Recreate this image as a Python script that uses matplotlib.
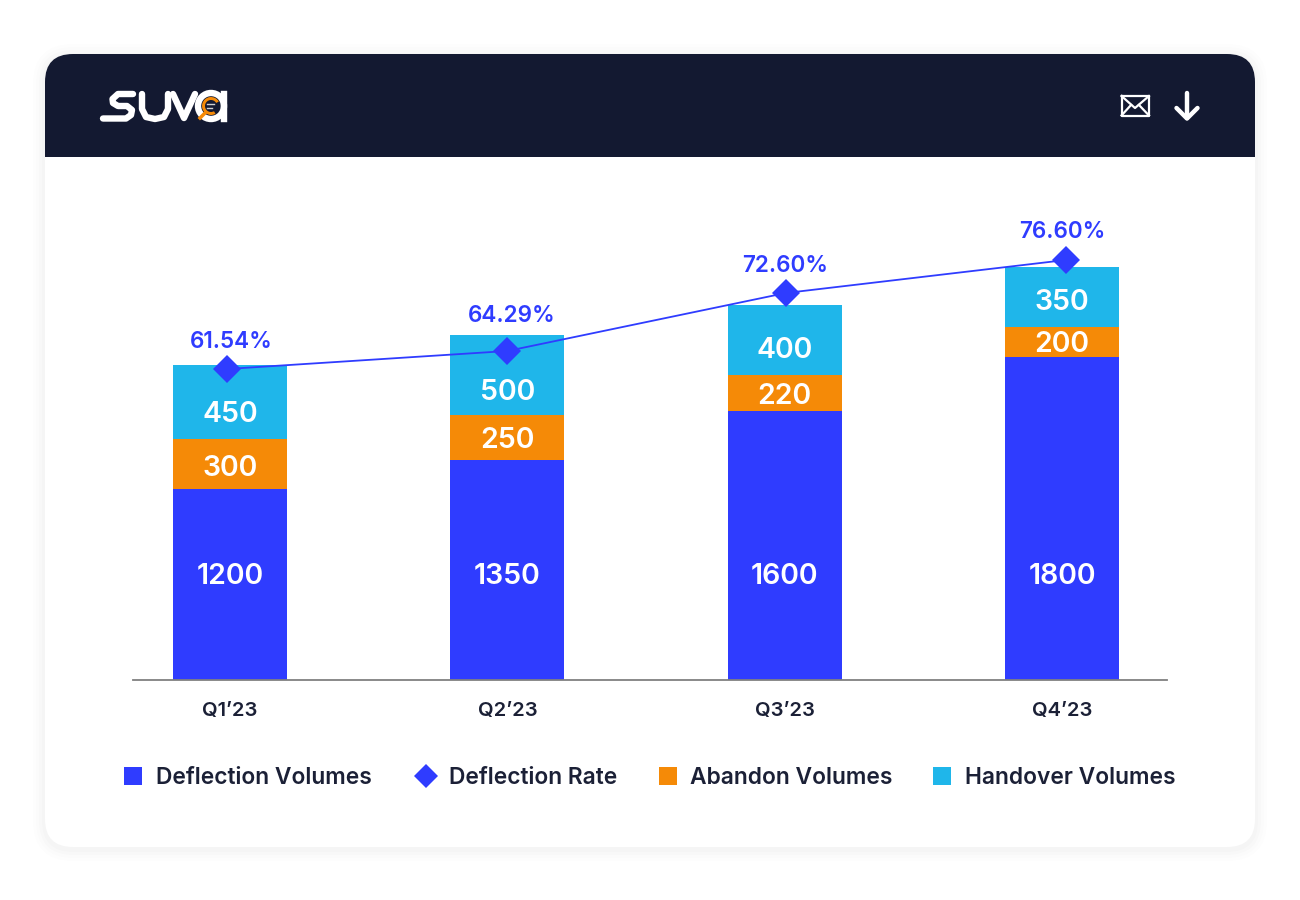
#! /usr/bin/env python3
"""
Stacked quarterly volumes with a deflection rate line, on a SUVA report card
"""

from matplotlib.patches import FancyBboxPatch, Rectangle, Circle, Wedge
import matplotlib.pyplot as plt

plt.rcParams["font.family"] = ["Inter", "DejaVu Sans"]

QUARTERS = ["Q1’23", "Q2’23", "Q3’23", "Q4’23"]
# printed values
DEFLECTION_VOLUMES = [1200, 1350, 1600, 1800]
ABANDON_VOLUMES = [300, 250, 220, 200]
HANDOVER_VOLUMES = [450, 500, 400, 350]
DEFLECTION_RATE = [61.54, 64.29, 72.60, 76.60]
# the picture is not to scale with its labels, so heights are read off it
DEFLECTION_HEIGHT = [191, 220, 269, 323]
ABANDON_HEIGHT = [50, 45, 36, 30]
HANDOVER_HEIGHT = [74, 80, 70, 60]
RATE_HEIGHT = [311, 329, 387, 420]
RATE_POSITION = [-0.011, 1.0, 2.004, 3.014]

LEGEND_LABELS = [
    "Deflection Volumes", "Deflection Rate",
    "Abandon Volumes", "Handover Volumes"
]

BLUE = "#2f3cff"
ORANGE = "#f58a07"
CYAN = "#1fb6ea"
NAVY = "#131931"
DARK = "#1b2036"


def draw_card(bg):
    for grow, alpha in [(12, 0.006), (9, 0.008), (6, 0.010), (3, 0.012)]:
        bg.add_patch(FancyBboxPatch(
            (45 - grow, 54 - grow + 2), 1210 + 2 * grow, 793 + 2 * grow,
            boxstyle=f"round,pad=0,rounding_size={28 + grow}",
            fc="black", ec="none", alpha=alpha
        ))
    card = FancyBboxPatch(
        (45, 54), 1210, 793, boxstyle="round,pad=0,rounding_size=28",
        fc="white", ec="none"
    )
    bg.add_patch(card)
    header = Rectangle((45, 54), 1210, 103, fc=NAVY, ec="none")
    bg.add_patch(header)
    header.set_clip_path(card)


def draw_logo(bg):
    stroke = dict(color="white", lw=4.6, solid_capstyle="round",
                  solid_joinstyle="round")
    bg.plot([133, 118, 112.5, 113, 118, 127, 132, 131, 126, 103],
            [94, 94, 99, 103, 106, 106, 110, 115, 118.5, 118.5], **stroke)
    bg.plot([142, 142, 146, 155, 164, 168, 168],
            [94, 109, 117, 119, 117, 109, 94], **stroke)
    bg.plot([173, 184, 195], [94, 118, 94], **stroke)
    bg.add_patch(Circle((211, 106), 13, fc="none", ec="white", lw=4.6))
    bg.plot([224, 224], [94, 118.5], color="white", lw=4.6)
    bg.add_patch(Circle((211, 106), 8.5, fc=NAVY, ec="none"))
    bg.add_patch(Wedge((211, 106), 9, 60, 330, width=3, fc=ORANGE, ec="none"))
    bg.plot([200, 205], [118, 113], color=ORANGE, lw=2.5)
    bg.plot([207, 214], [104, 104], color="#d0d0d0", lw=1)
    bg.plot([207, 212], [108, 108], color="#d0d0d0", lw=1)


def draw_icons(bg):
    line = dict(color="white", lw=1.6, solid_joinstyle="round")
    bg.plot([1121.5, 1149, 1149, 1121.5, 1121.5],
            [96, 96, 115.5, 115.5, 96], **line)
    bg.plot([1121.5, 1135, 1149], [96, 108, 96], **line)
    bg.plot([1121.5, 1131], [115.5, 105], **line)
    bg.plot([1149, 1139], [115.5, 105], **line)
    arrow = dict(color="white", lw=3.2, solid_capstyle="round",
                 solid_joinstyle="round")
    bg.plot([1187, 1187], [93, 118], **arrow)
    bg.plot([1176.5, 1187, 1197.5], [108, 118.5, 108], **arrow)


def draw_legend(bg):
    swatches = [
        (133, "s", BLUE, 156), (426, "D", BLUE, 449),
        (668, "s", ORANGE, 690), (942, "s", CYAN, 965)
    ]
    for label, (x, marker, colour, text_x) in zip(LEGEND_LABELS, swatches):
        bg.plot([x], [776], marker=marker, color=colour, ls="none",
                ms=13 if marker == "s" else 12.5, mew=0)
        bg.text(text_x, 775.5, label, color=DARK, fontsize=16.4, weight=600,
                va="center_baseline", ha="left")


def draw_chart(ax):
    positions = range(len(QUARTERS))
    width = 114 / 277.3
    abandon_bottom = DEFLECTION_HEIGHT
    handover_bottom = [a + b for a, b in zip(DEFLECTION_HEIGHT, ABANDON_HEIGHT)]
    ax.bar(positions, DEFLECTION_HEIGHT, width, color=BLUE)
    ax.bar(positions, ABANDON_HEIGHT, width, bottom=abandon_bottom, color=ORANGE)
    ax.bar(positions, HANDOVER_HEIGHT, width, bottom=handover_bottom, color=CYAN)
    ax.plot(RATE_POSITION, RATE_HEIGHT, color=BLUE, lw=1.3, marker="D", ms=14,
            mew=0, clip_on=False, zorder=4)

    label = dict(color="white", fontsize=20.5, weight=600, ha="center",
                 va="center_baseline")
    for i in positions:
        ax.text(i, 106, str(DEFLECTION_VOLUMES[i]), **label)
        ax.text(i, abandon_bottom[i] + ABANDON_HEIGHT[i] / 2 + ABANDON_SHIFT[i],
                str(ABANDON_VOLUMES[i]), **label)
        ax.text(i, handover_bottom[i] + HANDOVER_HEIGHT[i] / 2 + HANDOVER_SHIFT[i],
                str(HANDOVER_VOLUMES[i]), **label)
        ax.annotate(
            f"{DEFLECTION_RATE[i]:.2f}%", (RATE_POSITION[i], RATE_HEIGHT[i]),
            xytext=RATE_LABEL_SHIFT[i], textcoords="offset pixels",
            color=BLUE, fontsize=16.2, weight=600, ha="center",
            va="center_baseline", annotation_clip=False
        )

    ax.set_xlim(-97 / 277.3, 3 + 105 / 277.3)
    ax.set_ylim(0, 510)
    ax.set_xticks(list(positions), QUARTERS)
    ax.set_yticks([])
    ax.tick_params(axis="x", length=0, pad=15.5, labelsize=14.5, labelcolor=DARK)
    for tick in ax.get_xticklabels():
        tick.set_fontweight(600)
    for side in ["top", "left", "right"]:
        ax.spines[side].set_visible(False)
    ax.spines["bottom"].set_color("#808080")
    ax.spines["bottom"].set_linewidth(1.3)
    ax.patch.set_alpha(0)


# label nudges against the segment centres, in drawn units / pixels
ABANDON_SHIFT = [-2, 0, -1, 0]
HANDOVER_SHIFT = [-10, -15, -8, -3]
RATE_LABEL_SHIFT = [(4, 29), (4, 38), (-1, 30), (-4, 31)]


def main():
    fig = plt.figure(figsize=(13, 9), dpi=100, facecolor="white")
    bg = fig.add_axes([0, 0, 1, 1])
    bg.set_xlim(0, 1300)
    bg.set_ylim(900, 0)
    bg.axis("off")
    draw_card(bg)
    draw_logo(bg)
    draw_icons(bg)
    draw_legend(bg)
    ax = fig.add_axes([133 / 1300, (900 - 680) / 900, 1034 / 1300, 510 / 900])
    draw_chart(ax)
    fig.savefig("out.png", dpi=100)


if __name__ == "__main__":
    main()
